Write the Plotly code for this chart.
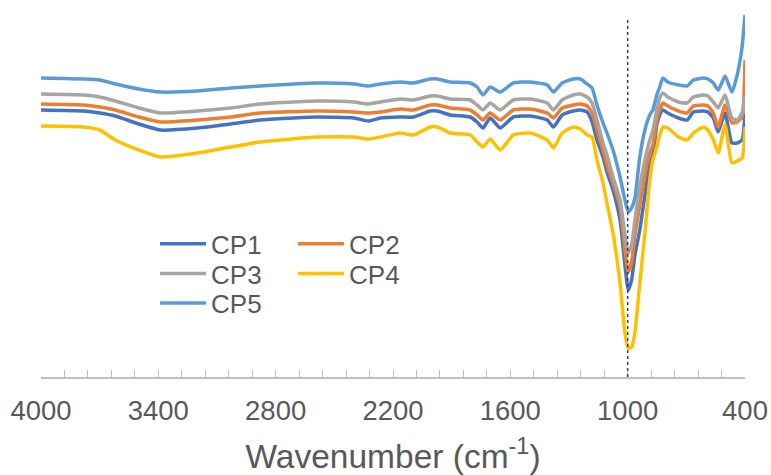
import plotly.graph_objects as go

# Wavenumber grid (cm-1)
wavenumber = [4000, 3780, 3700, 3620, 3500, 3390, 3200, 3030, 2880, 2590,
              2400, 2326, 2265, 2163, 2096, 2010, 1973, 1907, 1805, 1770,
              1740, 1703, 1652, 1585, 1498, 1411, 1380, 1335, 1278, 1242,
              1207, 1182, 1157, 1126, 1106, 1075, 1039, 1014, 997, 980,
              963, 938, 912, 887, 871, 851, 836, 820, 795, 740,
              696, 664, 613, 590, 562, 537, 502, 467, 440, 415,
              400]

# Transmittance (arbitrary units)
cp1 = [290, 289, 287, 284, 276, 270, 272, 276, 280, 283,
       282, 279, 282, 283, 283, 289, 289, 285, 283, 278,
       272, 282, 272, 283, 284, 280, 273, 285, 289, 290,
       288, 278, 260, 243, 228, 210, 180, 135, 110, 120,
       145, 170, 205, 235, 245, 275, 285, 290, 287, 282,
       280, 288, 289, 288, 282, 268, 287, 257, 257, 260,
       287]
cp2 = [296, 295, 293, 290, 283, 278, 280, 283, 287, 289,
       288, 287, 288, 291, 290, 295, 295, 292, 290, 285,
       280, 287, 280, 290, 291, 287, 282, 292, 295, 296,
       294, 287, 270, 250, 235, 217, 193, 150, 128, 138,
       165, 195, 225, 247, 255, 280, 290, 297, 294, 289,
       287, 294, 295, 294, 287, 273, 295, 277, 278, 283,
       340]
cp3 = [306, 305, 303, 299, 292, 287, 289, 292, 296, 299,
       298, 296, 298, 301, 300, 304, 304, 301, 300, 295,
       290, 297, 290, 300, 301, 297, 290, 300, 305, 306,
       303, 297, 280, 257, 245, 223, 200, 165, 147, 155,
       180, 213, 240, 260, 270, 290, 302, 307, 303, 298,
       297, 303, 305, 304, 298, 292, 305, 282, 280, 287,
       305]
cp4 = [274, 273, 270, 260, 250, 243, 247, 253, 258, 263,
       263, 261, 263, 267, 265, 273, 273, 267, 265, 258,
       253, 261, 250, 265, 267, 260, 252, 267, 273, 271,
       265, 263, 240, 217, 197, 167, 117, 67, 52, 53,
       67, 117, 167, 220, 240, 253, 265, 273, 272, 263,
       260, 267, 273, 270, 260, 247, 275, 237, 239, 242,
       273]
cp5 = [322, 321, 320, 316, 311, 308, 309, 312, 314, 317,
       316, 314, 316, 318, 317, 321, 321, 318, 317, 313,
       305, 313, 308, 317, 318, 315, 308, 317, 321, 321,
       316, 312, 295, 277, 267, 250, 223, 200, 188, 192,
       202, 243, 270, 285, 290, 305, 313, 322, 318, 315,
       314, 320, 322, 321, 317, 310, 324, 308, 325, 353,
       385]

series_names = ["CP1", "CP2", "CP3", "CP4", "CP5"]
series_values = [cp1, cp2, cp3, cp4, cp5]
colors = ["#4472C4", "#ED7D31", "#A5A5A5", "#FFC000", "#5B9BD5"]
legend_ids = ["legend", "legend2", "legend3", "legend4", "legend5"]

x_ticks = [4000, 3400, 2800, 2200, 1600, 1000, 400]
marker_wavenumber = 1000

fig = go.Figure()
for name, vals, col, lg in zip(series_names, series_values, colors, legend_ids):
    fig.add_trace(go.Scatter(
        x=wavenumber, y=vals, name=name, mode="lines",
        line=dict(color=col, width=3.5, shape="spline", smoothing=0.5),
        legend=lg,
    ))

fig.add_shape(type="line", xref="x", yref="y",
              x0=marker_wavenumber, x1=marker_wavenumber, y0=23, y1=382,
              line=dict(color="#404040", width=1.5, dash="dot"), layer="above")

FONT = "Liberation Sans, Arial, sans-serif"
legend_font = dict(family=FONT, size=26, color="#595959")
# legend positions (paper coords): CP1, CP2, CP3, CP4, CP5
leg_x = [0.162, 0.358, 0.162, 0.358, 0.162]
leg_y = [0.353, 0.353, 0.274, 0.274, 0.196]
layout_legends = {}
for lg, lx, ly in zip(legend_ids, leg_x, leg_y):
    layout_legends[lg] = dict(x=lx, y=ly, xanchor="left", yanchor="middle",
                              font=legend_font, bgcolor="rgba(0,0,0,0)",
                              borderwidth=0, itemwidth=46)

fig.update_layout(
    width=771, height=475,
    margin=dict(l=41, r=26, t=0, b=98, autoexpand=False),
    paper_bgcolor="white", plot_bgcolor="white",
    showlegend=True,
    **layout_legends,
    xaxis=dict(
        range=[4000, 400], tickvals=x_ticks, ticktext=[str(v) for v in x_ticks],
        automargin=False,
        ticks="inside", ticklen=7, tickwidth=1.3, tickcolor="#BFBFBF",
        ticklabelstandoff=8,
        showline=True, linecolor="#BFBFBF", linewidth=1.5,
        showgrid=False, zeroline=False,
        minor=dict(dtick=120, tick0=400, ticks="inside", ticklen=7,
                   tickwidth=1.3, tickcolor="#BFBFBF", showgrid=False),
        tickfont=dict(family=FONT, size=27.5, color="#595959"),
        title=dict(text="Wavenumber (cm<sup>-1</sup>)", standoff=27,
                   font=dict(family=FONT, size=33.5, color="#595959")),
    ),
    yaxis=dict(range=[23, 400], visible=False, automargin=False),
)

fig.write_html(
    "out.html",
    config={"displayModeBar": False},
    post_script="document.body.style.margin='0';document.body.style.padding='0';"
                "document.documentElement.style.overflow='hidden';",
)
